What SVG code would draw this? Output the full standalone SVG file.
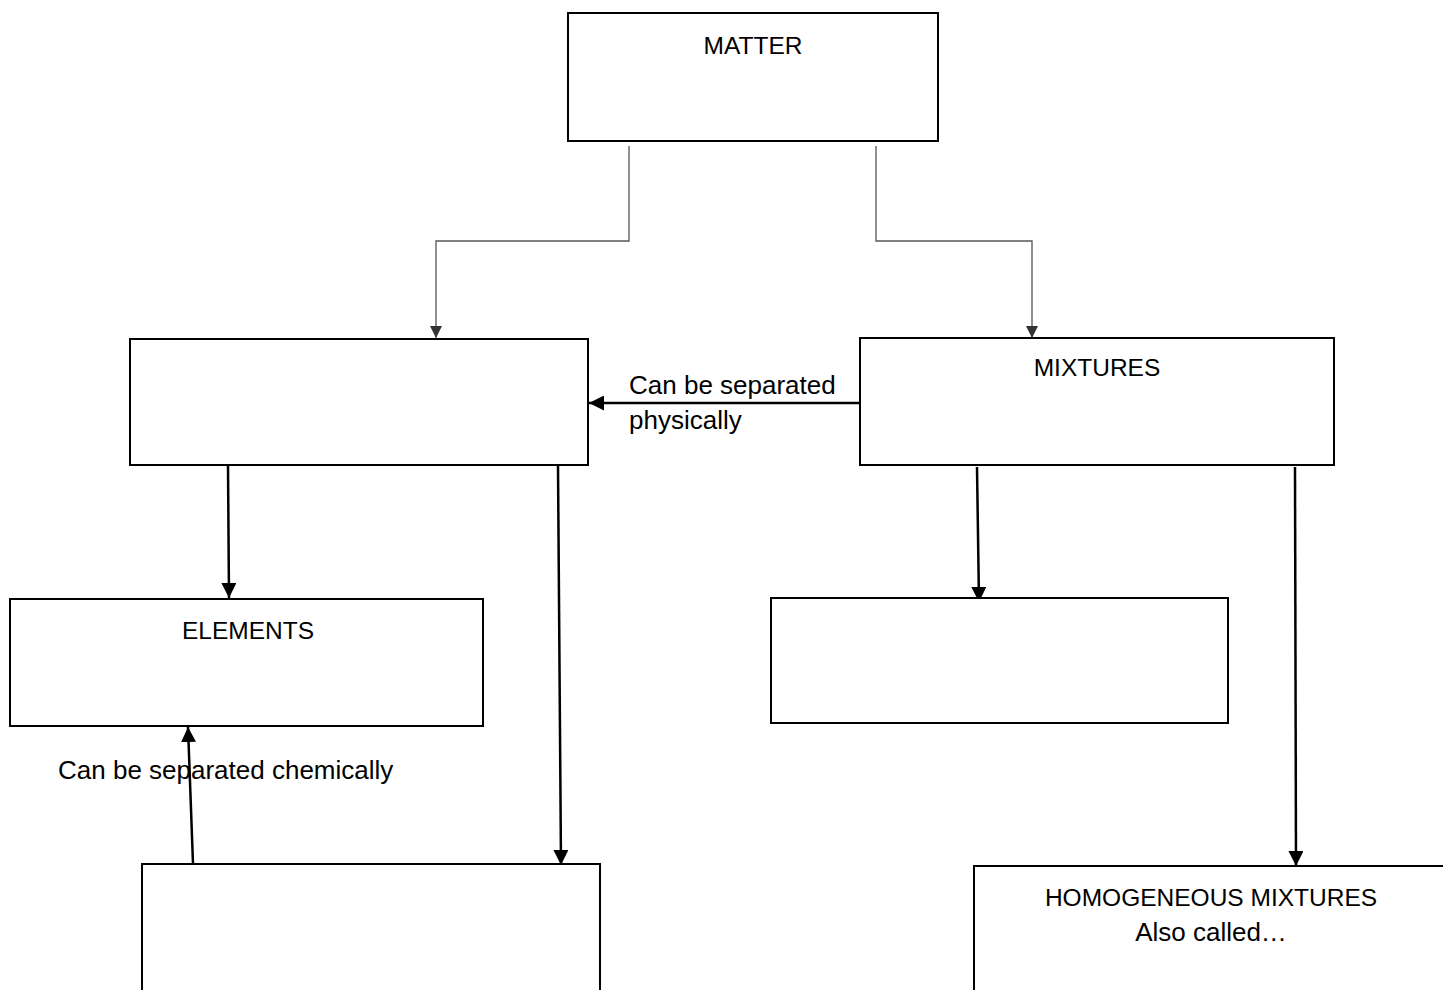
<svg xmlns="http://www.w3.org/2000/svg" width="1443" height="990" viewBox="0 0 1443 990">
<style>
.box{fill:#fff;stroke:#000;stroke-width:2}
.t{font-family:"Liberation Sans",Arial,sans-serif;font-size:26px;fill:#000}
.u{font-size:24.5px}
.c{text-anchor:middle}
.thin{fill:none;stroke:#555;stroke-width:1.3}
.thick{fill:none;stroke:#000;stroke-width:2.5}
</style>
<defs>
<marker id="ag" viewBox="0 0 10 10" refX="10" refY="5" markerWidth="12" markerHeight="12" markerUnits="userSpaceOnUse" orient="auto"><path d="M0,0 L10,5 L0,10 Z" fill="#333"/></marker>
<marker id="ab" viewBox="0 0 10 10" refX="10" refY="5" markerWidth="15" markerHeight="15" markerUnits="userSpaceOnUse" orient="auto"><path d="M0,0 L10,5 L0,10 Z" fill="#000"/></marker>
</defs>
<g id="connectors">
<path class="thin" d="M629,146 V241 H436 V338" marker-end="url(#ag)"/>
<path class="thin" d="M876,146 V241 H1032 V338" marker-end="url(#ag)"/>
<path class="thick" d="M860,403 H589" marker-end="url(#ab)"/>
<path class="thick" d="M228,466 L229,598" marker-end="url(#ab)"/>
<path class="thick" d="M558,466 L561,865" marker-end="url(#ab)"/>
<path class="thick" d="M193,864 L188,727" marker-end="url(#ab)"/>
<path class="thick" d="M977,467 L979,602" marker-end="url(#ab)"/>
<path class="thick" d="M1295,467 L1296,866" marker-end="url(#ab)"/>
</g>
<g id="matter"><rect class="box" x="568" y="13" width="370" height="128"/><text class="t u c" x="753" y="54">MATTER</text></g>
<g id="boxA"><rect class="box" x="130" y="339" width="458" height="126"/></g>
<g id="mixtures"><rect class="box" x="860" y="338" width="474" height="127"/><text class="t u c" x="1097" y="376">MIXTURES</text></g>
<g id="label-phys"><text class="t" x="629" y="394">Can be separated</text><text class="t" x="629" y="429">physically</text></g>
<g id="elements"><rect class="box" x="10" y="599" width="473" height="127"/><text class="t u c" x="248" y="639">ELEMENTS</text></g>
<g id="boxC"><rect class="box" x="771" y="598" width="457" height="125"/></g>
<g id="label-chem"><text class="t" x="58" y="779">Can be separated chemically</text></g>
<g id="boxB"><rect class="box" x="142" y="864" width="458" height="140"/></g>
<g id="homogeneous"><rect class="box" x="974" y="866" width="480" height="140"/><text class="t u c" x="1211" y="906">HOMOGENEOUS MIXTURES</text><text class="t c" x="1211" y="941">Also called…</text></g>
</svg>
